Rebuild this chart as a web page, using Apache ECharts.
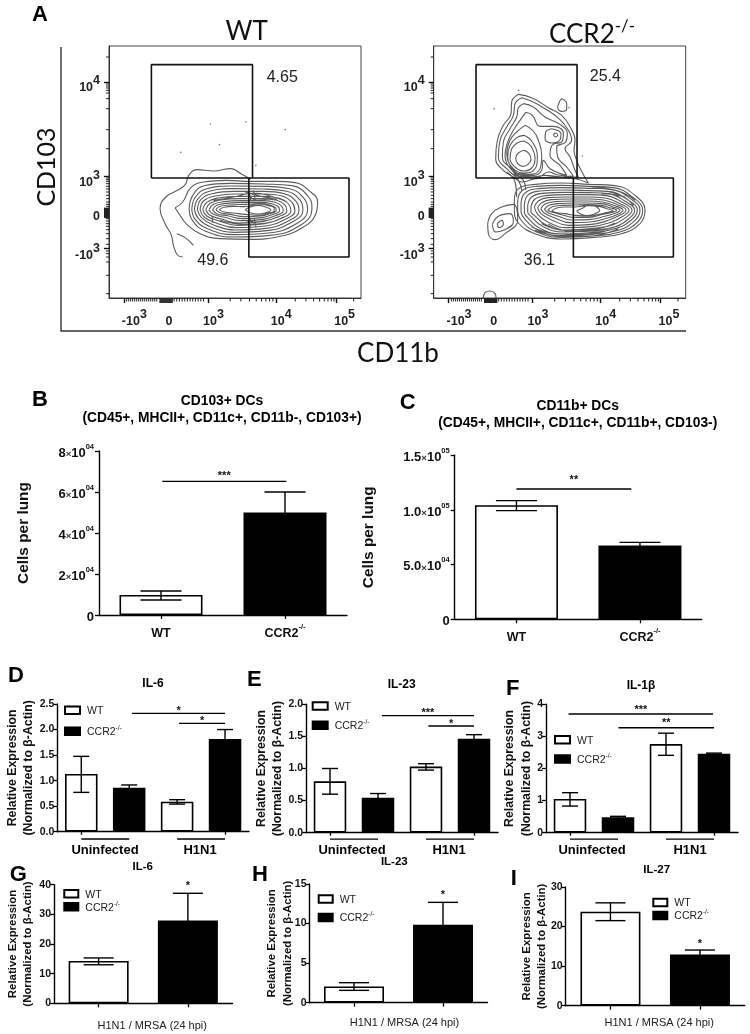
<!DOCTYPE html>
<html><head><meta charset="utf-8">
<script src="https://cdn.jsdelivr.net/npm/echarts@6/dist/echarts.min.js"></script>
<style>html,body{margin:0;padding:0;background:#fff}#c{width:750px;height:1034px;filter:blur(0.45px)}</style>
</head><body><div id="c"></div>
<script>
// ---------- Flow cytometry panels (values are channels) ----------
const wtFrameX=[327,1082], ccrFrameX=[176,932], frameY=[137,893], ccrShift=151;
const flowXMajor=[372,623,827,1008];
const flowXMinor=[380,386,392,398,404,410,416,422,428,434,440,446,452,458,464,470,522,530,538,546,554,562,570,578,586,594,602,610,690,722,748,768,784,797,808,818,885,917,940,958,972,983,993,1001,1060];
const flowXDense=[480,483,486,489,492,495,498,501,504,507,510,513,516];
const flowYMajor=[245,527,745];
const flowYMinor=[170,251,257,263,270,278,295,325,388,445,533,538,543,550,558,566,575,585,595,605,612,618,655,662,670,678,688,700,715,732,752,760,770,785,825,880];
const flowYDense=[624,627,630,633,636,639,642,645,648,651];
const flowXLabelAt=[403,507,640,843,1033], flowXLabels=['-10|3','0','10|3','10|4','10|5'];
const flowYLabelAt=[250,535,637,755], flowYLabels=['10|4','10|3','0','-10|3'];
const wtGates=[[[454,533],[454,193],[757,193],[757,533],[454,533]],[[746,533],[746,770],[1046,770],[1046,533],[746,533]]];
const wtGateText=[[846,232,'4.65'],[638,782,'49.6']];
const ccrGateText=[[691,230,'25.4'],[493,782,'36.1']];
const wtDots=[[631,371],[737,365],[658,433],[542,456],[855,388],[767,495]];
const ccrDots=[[431,270],[357,325],[622,467],[582,322]];
const wtContours=[
[[548,770],[532,764],[520,735],[514,705],[495,670],[480,625],[497,590],[532,570],[556,552],[566,525],[590,508],[640,512],[692,505],[725,522],[752,537]],
[[530,700],[555,712],[580,735]],
[[525,622],[548,605],[572,562],[610,545],[680,540],[750,543],[830,543],[885,547],[925,570],[952,605],[945,645],[905,683],[840,708],[750,717],[660,715],[600,700],[560,672],[540,645],[525,622]],
[[567,625],[578,585],[612,556],[690,549],[790,551],[875,556],[925,590],[935,625],[905,672],[810,705],[700,710],[615,692],[577,660],[567,625]],
[[575,626],[586,590],[620,565],[695,557],[790,558],[868,565],[912,595],[922,628],[892,668],[805,698],[700,703],[622,685],[585,657],[575,626]],
[[583,627],[594,595],[628,573],[700,565],[790,566],[860,573],[900,600],[908,630],[880,663],[800,691],[702,696],[630,679],[595,655],[583,627]],
[[592,627],[602,598],[636,580],[703,573],[790,573],[852,580],[888,604],[896,631],[868,660],[798,684],[705,689],[638,673],[604,652],[592,627]],
[[600,628],[610,602],[645,587],[708,581],[790,581],[845,587],[876,607],[884,632],[857,656],[795,677],[708,682],[646,667],[612,650],[600,628]],
[[608,628],[620,606],[653,593],[712,588],[788,588],[838,594],[865,611],[872,632],[846,653],[792,670],[712,675],[655,661],[620,647],[608,628]],
[[617,628],[630,609],[662,599],[718,595],[785,595],[830,600],[855,615],[860,632],[835,649],[790,663],[716,668],[664,656],[630,645],[617,628]],
[[627,628],[640,612],[672,604],[724,601],[782,601],[822,605],[845,618],[849,632],[825,646],[788,657],[722,661],[674,651],[640,642],[627,628]],
[[637,628],[650,615],[680,609],[730,606],[780,606],[815,610],[835,620],[838,631],[816,643],[785,652],[728,655],[682,646],[650,640],[637,628]],
[[647,628],[660,618],[690,614],[735,612],[778,610],[808,614],[826,622],[828,631],[808,640],[782,647],[732,649],[690,642],[660,637],[647,628]],
[[657,628],[672,621],[700,618],[732,619],[775,611],[806,616],[822,624],[822,632],[804,638],[778,645],[735,642],[700,638],[672,635],[657,628]],
[[735,628],[750,620],[775,615],[799,621],[812,629],[797,637],[772,641],[750,637],[735,628]],
[[640,600],[700,590],[760,578],[820,590],[860,605]],
[[660,660],[730,672],[800,668],[850,650]],
[[735,575],[790,590],[830,597]],
[[730,660],[760,665],[800,660]],
[[745,583],[770,600],[810,595]],
[[745,650],[775,672],[815,665]],
[[745,570],[752,600]],[[760,570],[765,596]],
[[745,655],[752,685]],[[762,655],[768,682]],
[[636,648],[638,668]]
];
const ccrContours=[
[[430,282],[470,292],[520,322],[560,345],[588,385],[600,420],[597,450],[605,480],[618,510],[640,548],[600,535],[540,530],[480,535],[440,545],[415,530],[385,510],[362,475],[367,420],[385,375],[408,340],[410,305],[430,282]],
[[440,292],[470,303],[510,325],[555,358],[580,390],[590,420],[570,445],[585,470],[600,510],[610,530],[560,530],[510,525],[470,530],[430,528],[395,505],[370,470],[375,420],[395,380],[415,345],[420,310],[440,292]],
[[445,310],[475,320],[510,350],[555,372],[577,400],[572,425],[545,440],[548,470],[575,500],[595,528],[550,524],[520,515],[490,530],[450,528],[410,505],[382,470],[385,425],[405,385],[425,350],[430,322],[445,310]],
[[452,336],[472,345],[495,378],[535,378],[565,398],[562,422],[530,436],[525,465],[555,495],[575,525],[525,505],[505,480],[500,510],[475,525],[440,525],[402,500],[390,465],[398,425],[415,390],[435,360],[452,336]],
[[450,375],[475,392],[490,420],[500,465],[495,505],[465,522],[430,520],[405,495],[395,460],[405,420],[425,395],[450,375]],
[[447,405],[472,425],[487,470],[478,508],[445,518],[415,505],[398,470],[405,435],[425,412],[447,405]],
[[447,422],[468,438],[480,475],[470,503],[445,512],[420,500],[405,475],[410,445],[428,427],[447,422]],
[[447,450],[462,460],[468,478],[458,493],[443,498],[428,490],[422,474],[430,458],[447,450]],
[[530,385],[558,400],[555,418],[530,428],[510,415],[512,395],[530,385]],
[[540,398],[548,403],[542,410],[536,403],[540,398]],
[[560,295],[575,310],[575,325],[560,333],[548,322],[553,305],[560,295]],
[[395,515],[420,545],[425,590]],
[[405,515],[430,540],[440,570]],
[[415,520],[445,540],[452,570]],
[[338,670],[350,640],[380,620],[415,612],[428,660],[390,700],[360,718],[340,700],[338,670]],
[[352,672],[370,648],[405,640],[415,665],[385,690],[362,695],[352,672]],
[[367,670],[380,660],[385,672],[372,682],[367,670]],
[[325,893],[330,877],[345,872],[360,880],[363,893]],
[[418,600],[430,565],[480,552],[560,548],[640,552],[720,556],[780,585],[810,630],[795,670],[740,700],[650,712],[560,716],[480,700],[430,668],[418,630],[418,600]],
[[428,605],[440,572],[485,558],[560,555],[640,558],[715,562],[772,590],[803,630],[788,665],[735,695],[650,707],[560,711],[485,695],[440,662],[428,630],[428,605]],
[[438,608],[450,578],[490,565],[560,562],[640,564],[710,568],[765,594],[795,630],[780,660],[730,690],[650,702],[560,706],[490,690],[450,657],[438,632],[438,608]],
[[448,612],[460,583],[495,572],[565,569],[640,571],[705,574],[757,598],[787,630],[772,656],[725,684],[650,697],[560,701],[495,684],[458,652],[448,635],[448,612]],
[[458,615],[470,590],[502,579],[570,576],[640,577],[700,580],[749,602],[779,630],[765,652],[720,679],[650,691],[565,695],[502,678],[468,648],[458,635],[458,615]],
[[468,618],[480,596],[510,586],[575,583],[640,583],[695,586],[742,606],[771,630],[757,648],[715,673],[650,685],[570,689],[510,672],[478,645],[468,636],[468,618]],
[[478,620],[490,602],[518,592],[580,590],[640,590],[690,593],[735,610],[762,630],[748,645],[708,666],[650,679],[575,682],[518,665],[488,642],[478,620]],
[[488,622],[500,607],[528,598],[585,596],[640,596],[685,599],[727,613],[753,630],[740,642],[700,660],[650,672],[580,675],[528,658],[498,640],[488,622]],
[[497,625],[510,611],[538,604],[590,602],[640,602],[682,605],[720,616],[744,630],[732,640],[695,654],[645,665],[585,667],[538,652],[508,638],[497,625]],
[[508,627],[522,615],[548,610],[595,608],[640,608],[680,610],[712,619],[735,630],[722,638],[690,648],[640,658],[590,659],[550,648],[520,637],[508,627]],
[[518,630],[532,619],[560,615],[600,614],[640,613],[676,615],[704,622],[725,630],[712,636],[685,642],[640,651],[595,651],[560,643],[532,636],[518,630]],
[[530,632],[545,623],[570,620],[600,620],[640,616],[672,618],[695,625],[714,631],[702,635],[680,640],[640,647],[600,645],[570,640],[545,637],[530,632]],
[[605,632],[625,622],[645,614],[664,619],[674,630],[660,640],[635,646],[615,640],[605,632]],
[[470,680],[540,700],[620,703],[700,690]],
[[500,670],[570,690],[650,688],[720,668]],
[[480,690],[560,708],[640,708],[730,685]],
[[520,672],[590,694],[660,692],[735,675]],
[[600,570],[680,572],[750,590]],
[[650,560],[730,572],[780,600]],
[[680,580],[740,588],[775,615]]
];
// ---------- Bar panels ----------
const twoGroups=['WT','CCR2'], fourBars=['Uninfected WT','Uninfected CCR2','H1N1 WT','H1N1 CCR2'], oneGroup=['WT','CCR2'];
const bMeans=[9800,50000], bHigh=[11700,60000], bLow=[7300,40000];
const bTicks=[0,20000,40000,60000,80000], bTickText=['0','2|04','4|04','6|04','8|04'];
const cMeans=[104300,67400], cHigh=[108500,70400], cLow=[99400,64400];
const cTicks=[0,50000,100000,150000], cTickText=['0','5.0|04','1.0|05','1.5|05'];
const dMeans=[1.13,0.86,0.587,1.815], dHigh=[1.475,0.915,0.627,2.0], dLow=[0.77,0.805,0.54,1.63];
const eMeans=[0.80,0.545,1.03,1.465], eHigh=[1.0,0.61,1.075,1.527], eLow=[0.6,0.48,0.975,1.40];
const fMeans=[1.05,0.478,2.76,2.46], fHigh=[1.247,0.51,3.10,2.48], fLow=[0.83,0.445,2.41,2.44];
const gMeans=[14.27,27.9], gHigh=[15.3,37.1], gLow=[13.0,18.7];
const hMeans=[2.06,9.86], hHigh=[2.53,12.68], hLow=[1.56,7.04];
const iMeans=[23.76,12.97], iHigh=[26.0,14.07], iLow=[21.5,11.9];
// significance bars: from/to in bar-index units, y on value axis
const bSig=[{from:0.01,to:1.01,y:65200,star:'***',starY:68900}];
const cSig=[{from:0,to:0.93,y:119200,star:'**',starY:129600}];
const dSig=[{from:1.06,to:3,y:2.317,star:'*',starY:2.40},{from:2.04,to:3,y:2.12,star:'*',starY:2.20},{from:0,to:1,y:-0.144},{from:2,to:3,y:-0.144}];
const eSig=[{from:1.08,to:3,y:1.824,star:'***',starY:1.90},{from:2.05,to:3,y:1.662,star:'*',starY:1.73},{from:0,to:1,y:-0.1},{from:2,to:3,y:-0.1}];
const fSig=[{from:-0.03,to:2.98,y:3.70,star:'***',starY:3.88},{from:1.01,to:3,y:3.27,star:'**',starY:3.47},{from:0,to:1,y:-0.2},{from:2,to:3,y:-0.2}];
const gSig=[{at:1,star:'*',starY:40.2}];
const hSig=[{at:1,star:'*',starY:13.9}];
const iSig=[{at:1,star:'*',starY:16.2}];
const yNameExpr='Relative Expression\n(Normalized to β-Actin)';
const xNameInfect='H1N1 / MRSA (24 hpi)';

const F='"Liberation Sans",Arial,sans-serif';
const FC='Lato,"Open Sans",sans-serif';
const INK='#111';
const supRich={
 b:{fontFamily:F,fontWeight:'bold',fontSize:13,color:INK,lineHeight:17,verticalAlign:'bottom'},
 x:{fontFamily:F,fontWeight:'bold',fontSize:9.5,color:'#333',lineHeight:17,verticalAlign:'bottom'},
 s:{fontFamily:F,fontWeight:'bold',fontSize:7.5,color:INK,lineHeight:17,verticalAlign:'top'}
};
const flowRich={
 b:{fontFamily:F,fontWeight:'bold',fontSize:12.5,color:'#222',lineHeight:20,verticalAlign:'bottom'},
 s:{fontFamily:F,fontWeight:'bold',fontSize:12.5,color:'#222',lineHeight:20,verticalAlign:'top',padding:[0,0,6,0]}
};
const grids=[],xAxes=[],yAxes=[],series=[],legends=[],titles=[],gfx=[];

function flat(contours){let out=[];contours.forEach(c=>{out=out.concat(c);out.push([null,null]);});return out;}
function shift(list,dx){return list.map(v=>v-dx);}

function flowPanel(left,frameX,dx,contours,dots,gateText){
 const gi=grids.length;
 grids.push({left,top:46,width:252,height:252,show:true,borderColor:'#444',borderWidth:1,backgroundColor:'transparent'});
 const xl=shift(flowXLabelAt,dx), xt={};xl.forEach((v,i)=>xt[v]=flowXLabels[i]);
 const yt={};flowYLabelAt.forEach((v,i)=>yt[v]=flowYLabels[i]);
 const fmt=s=>{if(!s)return '';const p=s.split('|');return p[1]?`{b|${p[0]}}{s|${p[1]}}`:`{b|${p[0]}}`;};
 xAxes.push({gridIndex:gi,type:'value',min:frameX[0],max:frameX[1],splitLine:{show:false},
   axisLine:{lineStyle:{color:'#333',width:1}},
   axisTick:{show:true,length:5,customValues:shift(flowXMajor,dx),lineStyle:{color:'#111',width:1.4}},
   axisLabel:{customValues:xl,margin:10,rich:flowRich,showMinLabel:true,showMaxLabel:true,formatter:v=>fmt(xt[v])}});
 yAxes.push({gridIndex:gi,type:'value',inverse:true,min:frameY[0],max:frameY[1],splitLine:{show:false},
   axisLine:{lineStyle:{color:'#333',width:1}},
   axisTick:{show:true,length:5,customValues:flowYMajor,lineStyle:{color:'#111',width:1.4}},
   axisLabel:{customValues:flowYLabelAt,margin:9,rich:flowRich,formatter:v=>fmt(yt[v])}});
 series.push({type:'line',name:'contours',xAxisIndex:gi,yAxisIndex:gi,data:flat(contours),smooth:0.45,showSymbol:false,silent:true,connectNulls:false,
   lineStyle:{color:'#5c5c5c',width:1.1},z:2});
 const gates=wtGates.map(g=>g.map(p=>[p[0]-dx,p[1]]));
 series.push({type:'line',name:'gates',xAxisIndex:gi,yAxisIndex:gi,data:flat(gates),showSymbol:false,silent:true,connectNulls:false,
   lineStyle:{color:'#111',width:1.6},z:3});
 series.push({type:'scatter',name:'events',xAxisIndex:gi,yAxisIndex:gi,data:dots,symbolSize:1.6,itemStyle:{color:'#555'},z:3});
 const tx=(list,len,w)=>series.push({type:'custom',name:'ticks x',xAxisIndex:gi,yAxisIndex:gi,silent:true,data:shift(list,dx).map(v=>[v,frameY[1]]),
   encode:{x:0,y:1},renderItem:(p,api)=>{const a=api.coord([api.value(0),frameY[1]]);
     return {type:'line',shape:{x1:a[0],y1:a[1],x2:a[0],y2:a[1]+len},style:{stroke:'#222',lineWidth:w}};}});
 const ty=(list,len,w)=>series.push({type:'custom',name:'ticks y',xAxisIndex:gi,yAxisIndex:gi,silent:true,data:list.map(v=>[frameX[0],v]),
   encode:{x:0,y:1},renderItem:(p,api)=>{const a=api.coord([frameX[0],api.value(1)]);
     return {type:'line',shape:{x1:a[0],y1:a[1],x2:a[0]-len,y2:a[1]},style:{stroke:'#222',lineWidth:w}};}});
 tx(flowXMinor,3.5,1); tx(flowXDense,5,1.4); ty(flowYMinor,3,1); ty(flowYDense,5,1.4);
 series.push({type:'custom',name:'gate text',xAxisIndex:gi,yAxisIndex:gi,silent:true,data:gateText.map(t=>[t[0],t[1]]),z:4,
   encode:{x:0,y:1},renderItem:(p,api)=>{const a=api.coord([api.value(0),api.value(1)]);
     return {type:'text',x:a[0],y:a[1],style:{text:gateText[p.dataIndex][2],align:'center',verticalAlign:'middle',font:'16px '+F,fill:'#222'}};}});
}
flowPanel(109,wtFrameX,0,wtContours,wtDots,wtGateText);
flowPanel(433.7,ccrFrameX,ccrShift,ccrContours,ccrDots,ccrGateText);

function tickFmt(ticks,text){return v=>{const i=ticks.indexOf(v);if(i<0)return '';const p=text[i].split('|');
  return p[1]?`{b|${p[0]}}{x|×}{b|10}{s|${p[1]}}`:`{b|${p[0]}}`;};}

function barPanel(o){
 const gi=grids.length;
 grids.push({left:o.left,top:o.top,width:o.w,height:o.h});
 xAxes.push({gridIndex:gi,type:'category',data:o.cats,
   axisLine:{lineStyle:{color:'#000',width:1.4}},
   axisTick:{show:true,alignWithLabel:true,length:o.tickLen||4,lineStyle:{color:'#000',width:1.3}},
   axisLabel:o.xLabels?{show:true,margin:8,interval:0,rich:{
      n:{fontFamily:F,fontWeight:'bold',fontSize:12.5,color:INK,lineHeight:17,verticalAlign:'bottom'},
      s:{fontFamily:F,fontWeight:'bold',fontSize:7.5,color:INK,lineHeight:17,verticalAlign:'top'}},
      formatter:v=>v==='WT'?'{n|WT}':'{n|CCR2}{s|-/-}'}:{show:false},
   name:o.xName,nameLocation:'middle',nameGap:o.xGap,nameMoveOverlap:false,nameTextStyle:{fontFamily:F,fontSize:11,color:'#222',padding:[0,0,0,o.xPad||0]}});
 yAxes.push({gridIndex:gi,type:'value',min:0,max:o.max,interval:o.step,splitLine:{show:false},
   axisLine:{show:true,lineStyle:{color:'#000',width:1.4}},
   axisTick:{show:true,length:4,lineStyle:{color:'#000',width:1.3}},
   axisLabel:o.ticksRich?{margin:5,rich:supRich,formatter:tickFmt(o.ticksRich[0],o.ticksRich[1])}
     :{margin:o.yMargin||3,fontFamily:F,fontWeight:'bold',fontSize:10.5,color:INK,formatter:v=>o.decimals!=null?v.toFixed(o.decimals):String(v)},
   name:o.yName,nameLocation:'middle',nameGap:o.yGap,nameMoveOverlap:false,
   nameTextStyle:{fontFamily:F,fontWeight:'bold',fontSize:o.yFont,lineHeight:o.yLH,color:INK}});
 const wt=o.means.map((v,i)=>i%2===0?v:null), cc=o.means.map((v,i)=>i%2===1?v:null);
 series.push({type:'bar',name:'WT',xAxisIndex:gi,yAxisIndex:gi,data:wt,barWidth:o.barW,barGap:'-100%',
   itemStyle:{color:'#fff',borderColor:'#000',borderWidth:1.6},z:2});
 series.push({type:'bar',name:'CCR2',xAxisIndex:gi,yAxisIndex:gi,data:cc,barWidth:o.barW,barGap:'-100%',
   itemStyle:{color:'#000',borderColor:'#000',borderWidth:1.6},z:2});
 const rows=o.means.map((v,i)=>[i,o.low[i],o.high[i]]);
 series.push({type:'custom',name:'error bars',xAxisIndex:gi,yAxisIndex:gi,data:rows,silent:true,z:3,encode:{x:0,y:[1,2]},
   renderItem:(p,api)=>{const i=api.value(0),lo=api.coord([i,api.value(1)]),hi=api.coord([i,api.value(2)]),c=o.cap/2;
    const st={stroke:'#000',lineWidth:1.4};
    return {type:'group',children:[
     {type:'line',shape:{x1:lo[0],y1:lo[1],x2:hi[0],y2:hi[1]},style:st},
     {type:'line',shape:{x1:hi[0]-c,y1:hi[1],x2:hi[0]+c,y2:hi[1]},style:st},
     {type:'line',shape:{x1:lo[0]-c,y1:lo[1],x2:lo[0]+c,y2:lo[1]},style:st}]};}});
 const sig=o.sig;
 series.push({type:'custom',name:'significance',xAxisIndex:gi,yAxisIndex:gi,data:sig.map(s=>[0,s.y!=null?s.y:s.starY]),silent:true,z:4,encode:{x:0,y:1},
   renderItem:(p,api)=>{const s=sig[p.dataIndex],band=api.size([1,0])[0],base=api.coord([0,0])[0],kids=[];
    if(s.y!=null){const y=api.coord([0,s.y])[1];
      kids.push({type:'line',shape:{x1:base+s.from*band,y1:y,x2:base+s.to*band,y2:y},style:{stroke:'#000',lineWidth:1.4}});}
    if(s.star){const yy=api.coord([0,s.starY])[1];
      const mid=s.at!=null?base+s.at*band:base+(s.from+s.to)/2*band;
      kids.push({type:'text',x:mid,y:yy+2,style:{text:s.star,align:'center',verticalAlign:'middle',font:'bold 11px '+F,fill:'#111'}});}
    return {type:'group',children:kids};}});
 if(o.legend){legends.push({left:o.legend[0],top:o.legend[1],orient:'vertical',itemWidth:o.legend[3]||15,itemHeight:7.5,itemGap:o.legend[2],padding:0,icon:'rect',selectedMode:false,
   data:['WT','CCR2'],formatter:v=>v==='WT'?'{t|WT}':'{t|CCR2}{u|-/-}',
   textStyle:{padding:[0,0,0,2],rich:{t:{fontFamily:F,fontSize:10.5,color:'#222',lineHeight:13,verticalAlign:'bottom'},u:{fontFamily:F,fontSize:6.5,color:'#222',lineHeight:13,verticalAlign:'top'}}}});}
}
const big={yFont:15.4,yLH:18,barW:83,cap:41};
barPanel({...big,left:99,top:451,w:248,h:164,cats:twoGroups,means:bMeans,high:bHigh,low:bLow,max:80000,step:20000,ticksRich:[bTicks,bTickText],yName:'Cells per lung',yGap:66,sig:bSig,xLabels:true});
barPanel({...big,left:454.7,top:455.3,w:247,h:164,cats:twoGroups,means:cMeans,high:cHigh,low:cLow,max:150000,step:50000,ticksRich:[cTicks,cTickText],yName:'Cells per lung',yGap:76.7,sig:cSig,xLabels:true});
const mid={yFont:12.3,yLH:16.5,barW:32.5,cap:16,yName:yNameExpr,tickLen:3};
barPanel({...mid,yGap:20,left:57.3,top:704,w:191.7,h:127.7,cats:fourBars,means:dMeans,high:dHigh,low:dLow,max:2.5,step:0.5,decimals:1,sig:dSig,legend:[64,705.5,8]});
barPanel({...mid,yGap:20,left:306,top:704.3,w:192,h:128.4,cats:fourBars,means:eMeans,high:eHigh,low:eLow,max:2,step:0.5,decimals:1,sig:eSig,legend:[311.7,701.3,6.3]});
barPanel({...mid,yGap:10.3,yLH:17.5,left:546,top:704.3,w:192,h:128.4,cats:fourBars,means:fMeans,high:fHigh,low:fLow,max:4,step:1,decimals:0,sig:fSig,legend:[554,735,6.3]});
const low={yFont:11.4,yLH:15,barW:60,cap:30,yName:yNameExpr,xName:xNameInfect};
barPanel({...low,yGap:18.5,left:54,top:884.7,w:178.5,h:118.6,cats:oneGroup,means:gMeans,high:gHigh,low:gLow,max:40,step:10,sig:gSig,legend:[63.3,889,0,14],xGap:17.5,xPad:18});
barPanel({...low,yGap:14.2,yLH:15.6,left:309.5,top:884,w:178,h:118.7,cats:oneGroup,means:hMeans,high:hHigh,low:hLow,max:15,step:5,sig:hSig,legend:[317.7,894.3,5.4,14],xGap:14.5,xPad:12});
barPanel({...low,yGap:15.9,left:565.7,top:887,w:179,h:118.7,cats:oneGroup,means:iMeans,high:iHigh,low:iLow,max:30,step:10,sig:iSig,legend:[652.3,897.7,0,14],xGap:12,xPad:8});

function title(text,x,y,size,extra){titles.push(Object.assign({text,left:x,top:y,padding:0,textAlign:'center',textVerticalAlign:'middle',
  textStyle:{fontFamily:F,fontWeight:'bold',fontSize:size,color:'#000',lineHeight:size*1.22}},extra||{}));}
[['A',40,15],['B',40,400],['C',407.7,402.7],['D',16,676],['E',254.3,680.3],['F',512.7,689],['G',18.3,875],['H',260,875],['I',513.7,878.7]].forEach(l=>title(l[0],l[1],l[2],22));
title('CD103+ DCs\n(CD45+, MHCII+, CD11c+, CD11b-, CD103+)',222,410,13.8);
title('CD11b+ DCs\n(CD45+, MHCII+, CD11c+, CD11b+, CD103-)',577.7,414.5,13.8);
title('IL-6',153,684,12);title('IL-23',401.7,685,12);title('IL-1β',641,685.7,12);
title('IL-6',142.7,867,11.5);title('IL-23',394.3,861.7,11.5);title('IL-27',656.7,870,11.5);
title('WT',246.7,32,26,{textStyle:{fontFamily:FC,fontWeight:'normal',fontSize:26,color:'#111'}});
title('{a|CCR2}{b|-/-}',592,33,26,{textStyle:{fontWeight:'normal',rich:{a:{fontFamily:FC,fontWeight:'normal',fontSize:26,color:'#111',lineHeight:30,verticalAlign:'bottom'},b:{fontFamily:FC,fontWeight:'normal',fontSize:17,color:'#111',lineHeight:30,verticalAlign:'top'}}}});
function gtext(text,x,y,font,rot,fill){gfx.push({type:'text',x,y,rotation:rot||0,style:{text,font,fill:fill||'#000',align:'center',verticalAlign:'middle'},silent:true});}
gtext('CD103',47,167,'25px '+FC,Math.PI/2,'#111');
gtext('CD11b',398,354,'26px '+FC,0,'#111');
gtext('Uninfected',105,850,'bold 13px '+F);gtext('H1N1',200,850,'bold 13px '+F);
gtext('Uninfected',352,850,'bold 13px '+F);gtext('H1N1',449,850,'bold 13px '+F);
gtext('Uninfected',592,850,'bold 13px '+F);gtext('H1N1',690,850,'bold 13px '+F);
gfx.push({type:'polyline',shape:{points:[[61,47],[61,331],[686,331]]},style:{stroke:'#333',fill:null,lineWidth:1.4},silent:true});

const chart=echarts.init(document.getElementById('c'),null,{renderer:'canvas'});
chart.setOption({animation:false,backgroundColor:'#fff',tooltip:{show:false},title:titles,grid:grids,xAxis:xAxes,yAxis:yAxes,series,legend:legends,graphic:{elements:gfx}});
</script></body></html>
